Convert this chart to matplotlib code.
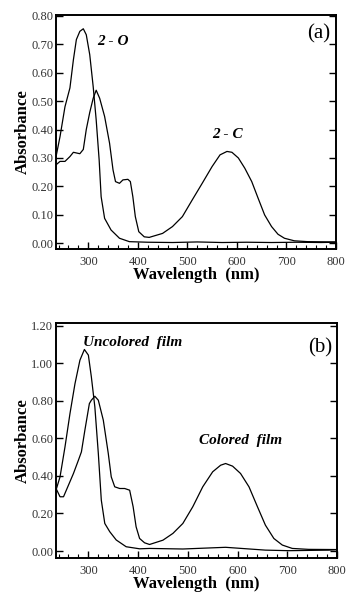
import matplotlib
matplotlib.use("Agg")
import matplotlib.pyplot as plt
from matplotlib.ticker import MultipleLocator, FormatStrFormatter

plt.rcParams['font.family'] = ['Liberation Serif', 'DejaVu Serif']

# ---- Panel (a) data ----
wl_a_open = [235, 243, 253, 263, 270, 276, 283, 290, 296, 303, 310, 316, 322, 326, 333, 346, 363, 383,
             420, 470, 520, 570, 620, 670, 720, 770, 800]
abs_a_open = [0.305, 0.375, 0.48, 0.546, 0.645, 0.716, 0.745, 0.754, 0.733, 0.663, 0.55, 0.434, 0.293, 0.164,
              0.088, 0.047, 0.018, 0.006, 0.004, 0.003, 0.005, 0.003, 0.004, 0.003, 0.004, 0.003, 0.004]

wl_a_closed = [235, 243, 253, 263, 270, 283, 290, 296, 303, 310, 316, 323, 333, 343, 350, 355, 363, 370,
               380, 385, 390, 395, 402, 413, 423, 450, 470, 490, 510, 530, 550, 566, 580, 590, 603,
               616, 630, 643, 656, 670, 683, 696, 716, 743, 800]
abs_a_closed = [0.276, 0.288, 0.288, 0.305, 0.32, 0.315, 0.33, 0.40, 0.46, 0.51, 0.538, 0.51, 0.446, 0.352,
                0.258, 0.217, 0.211, 0.223, 0.225, 0.217, 0.164, 0.094, 0.041, 0.023, 0.021, 0.035, 0.059,
                0.094, 0.153, 0.211, 0.27, 0.311, 0.323, 0.32, 0.30, 0.264, 0.217, 0.158, 0.10, 0.059,
                0.032, 0.018, 0.009, 0.006, 0.005]

# ---- Panel (b) data ----
wl_b_unc = [235, 243, 253, 263, 273, 283, 292, 300, 306, 313, 320, 326, 333, 343, 356, 376, 403,
            423, 490, 576, 656, 703, 783, 800]
abs_b_unc = [0.325, 0.395, 0.555, 0.732, 0.89, 1.016, 1.073, 1.043, 0.927, 0.768, 0.52, 0.271, 0.147,
             0.103, 0.059, 0.023, 0.012, 0.014, 0.011, 0.02, 0.005, 0.002, 0.005, 0.008]

wl_b_col = [235, 243, 250, 260, 270, 280, 286, 293, 302, 306, 313, 320, 330, 340, 346, 353, 363, 373,
            383, 390, 396, 403, 413, 423, 450, 470, 490, 510, 530, 550, 566, 576, 590, 606, 623,
            640, 656, 673, 690, 710, 743, 800]
abs_b_col = [0.333, 0.289, 0.289, 0.351, 0.413, 0.484, 0.528, 0.644, 0.785, 0.803, 0.824, 0.803, 0.697,
             0.52, 0.395, 0.342, 0.333, 0.333, 0.324, 0.236, 0.129, 0.067, 0.044, 0.035, 0.058, 0.094,
             0.147, 0.236, 0.342, 0.422, 0.457, 0.466, 0.452, 0.413, 0.342, 0.236, 0.138, 0.067,
             0.032, 0.014, 0.009, 0.008]

fig = plt.figure(figsize=(3.46, 5.93), dpi=100)
ax1 = fig.add_axes([0.162, 0.580, 0.809, 0.395])
ax2 = fig.add_axes([0.162, 0.059, 0.812, 0.396])

lw = 0.9
ax1.plot(wl_a_open, abs_a_open, color='black', lw=lw)
ax1.plot(wl_a_closed, abs_a_closed, color='black', lw=lw)
ax2.plot(wl_b_unc, abs_b_unc, color='black', lw=lw)
ax2.plot(wl_b_col, abs_b_col, color='black', lw=lw)

ax1.set_ylim(-0.02, 0.803)
ax2.set_ylim(-0.037, 1.213)
ax1.yaxis.set_major_locator(MultipleLocator(0.1))
ax2.yaxis.set_major_locator(MultipleLocator(0.2))

for ax in (ax1, ax2):
    ax.set_xlim(235, 800)
    ax.xaxis.set_major_locator(MultipleLocator(100))
    ax.xaxis.set_minor_locator(MultipleLocator(20))
    ax.yaxis.set_major_formatter(FormatStrFormatter('%.2f'))
    ax.tick_params(axis='both', which='major', direction='in', length=5, width=1.0,
                   labelsize=9, colors='black', labelcolor='#333333', right=True)
    ax.tick_params(axis='x', which='major', pad=5)
    ax.tick_params(axis='y', which='major', pad=2)
    ax.tick_params(axis='x', which='minor', direction='in', length=3, width=0.8)
    for s in ax.spines.values():
        s.set_linewidth(1.4)
    ax.set_ylabel('Absorbance', fontsize=12, fontweight='bold', labelpad=0)
    ax.set_xlabel('Wavelength  (nm)', fontsize=12, fontweight='bold', labelpad=-1)

ax1.text(0.94, 0.92, '(a)', transform=ax1.transAxes, ha='center', va='center', fontsize=15)
ax1.text(0.204, 0.885, '2 - O', transform=ax1.transAxes, ha='center', va='center',
         fontsize=11, fontweight='bold', style='italic')
ax1.text(0.614, 0.487, '2 - C', transform=ax1.transAxes, ha='center', va='center',
         fontsize=11, fontweight='bold', style='italic')

ax2.text(0.94, 0.894, '(b)', transform=ax2.transAxes, ha='center', va='center', fontsize=15)
ax2.text(0.274, 0.919, 'Uncolored  film', transform=ax2.transAxes, ha='center', va='center',
         fontsize=11, fontweight='bold', style='italic')
ax2.text(0.655, 0.502, 'Colored  film', transform=ax2.transAxes, ha='center', va='center',
         fontsize=11, fontweight='bold', style='italic')

fig.savefig('out.png', dpi=100)
